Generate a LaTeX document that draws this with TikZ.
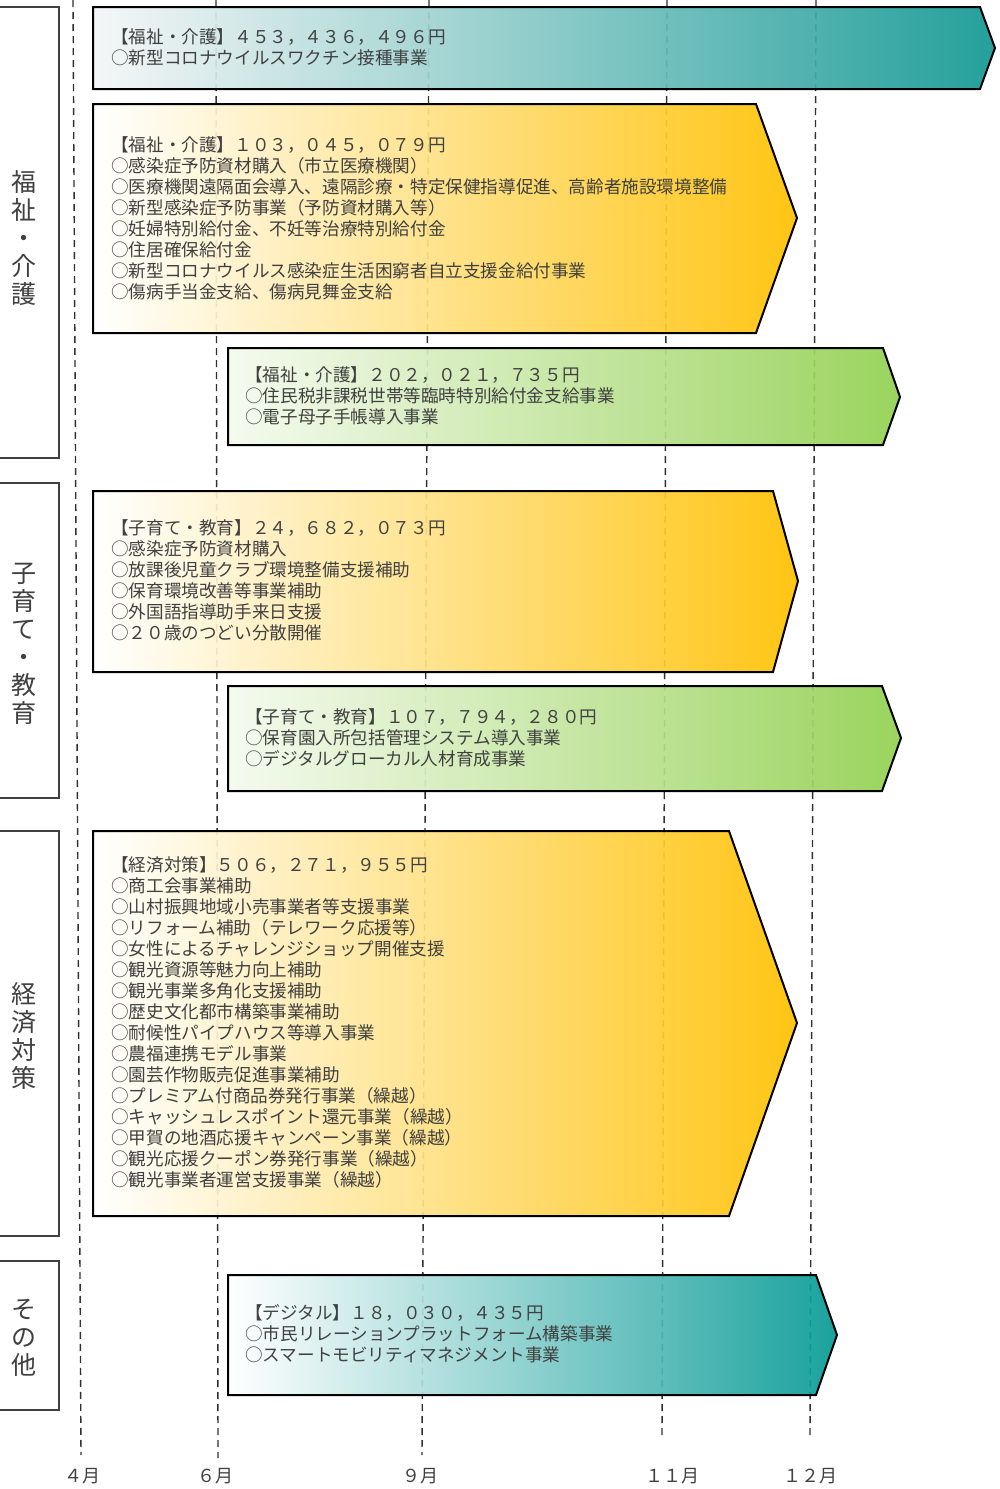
\documentclass[tikz,border=0pt]{standalone}
\usepackage{fontspec}
\setmainfont{Noto Sans CJK JP}
\begin{document}
\begin{tikzpicture}[x=1pt,y=-1pt]
\definecolor{txtc}{HTML}{404040}
\definecolor{gridc}{HTML}{303030}
\definecolor{catc}{HTML}{404040}
\definecolor{tealL}{HTML}{F4F6F6}
\definecolor{tealR}{HTML}{129893}
\definecolor{teal2R}{HTML}{079A95}
\definecolor{orangeR}{HTML}{FFC000}
\definecolor{greenL}{HTML}{F4FAEE}
\definecolor{greenR}{HTML}{92D050}
\tikzset{
 guide/.style={draw=gridc, line width=1.4pt, dash pattern=on 7pt off 5pt},
 catbox/.style={draw=catc, line width=1.6pt, fill=white},
 cattext/.style={text=txtc, font=\fontsize{25}{28}\selectfont, align=center, inner sep=0},
 arrowbox/.style={draw=black, line width=2pt, line join=miter, fill opacity=0.92},
 orangeshade/.style={left color=white, middle color=orangeR!35!white, right color=orangeR},
 body/.style={anchor=north west, inner sep=0, align=left, text=txtc, font=\fontsize{17.6}{21}\selectfont},
 month/.style={text=txtc, font=\fontsize{18}{20}\selectfont, inner sep=0},
}
\useasboundingbox (0,0) rectangle (999,1489);

% guide lines
\coordinate (g4t) at (73,0);   \coordinate (g4b) at (81,1455);
\coordinate (g6t) at (216,0);  \coordinate (g6b) at (218,1458);
\coordinate (g9t) at (429,0);  \coordinate (g9b) at (422,1455);
\coordinate (g11t) at (667,0); \coordinate (g11b) at (662,1437);
\coordinate (g12t) at (816,0); \coordinate (g12b) at (810,1435);
\draw[guide] (g4t) -- (g4b);
\draw[guide] (g6t) -- (g6b);
\draw[guide] (g9t) -- (g9b);
\draw[guide] (g11t) -- (g11b);
\draw[guide] (g12t) -- (g12b);

\node[month] (m4) at (82,1476) {４月};
\node[month] (m6) at (215,1476) {６月};
\node[month] (m9) at (420,1476) {９月};
\node[month] (m11) at (672,1476) {１１月};
\node[month] (m12) at (810,1476) {１２月};

% category boxes
\draw[catbox] (-3,7) rectangle (59,458);
\node[cattext] (c1) at (24,238) {福\\祉\\・\\介\\護};
\draw[catbox] (-3,483) rectangle (59,798);
\node[cattext] (c2) at (24,644) {子\\育\\て\\・\\教\\育};
\draw[catbox] (-3,831) rectangle (59,1236);
\node[cattext] (c3) at (24,1036) {経\\済\\対\\策};
\draw[catbox] (-3,1261) rectangle (59,1410);
\node[cattext] (c4) at (24,1338) {そ\\の\\他};

% arrows
\draw[arrowbox, left color=tealL, right color=tealR]
  (93,7) -- (980,7) -- (995,48) -- (980,89) -- (93,89) -- cycle;
\node[body] (t1) at (111,28) {【福祉・介護】４５３，４３６，４９６円\\○新型コロナウイルスワクチン接種事業};

\draw[arrowbox, orangeshade]
  (93,104) -- (756,104) -- (797,218) -- (756,333) -- (93,333) -- cycle;
\node[body] (t2) at (111,136) {【福祉・介護】１０３，０４５，０７９円\\
○感染症予防資材購入（市立医療機関）\\
○医療機関遠隔面会導入、遠隔診療・特定保健指導促進、高齢者施設環境整備\\
○新型感染症予防事業（予防資材購入等）\\
○妊婦特別給付金、不妊等治療特別給付金\\
○住居確保給付金\\
○新型コロナウイルス感染症生活困窮者自立支援金給付事業\\
○傷病手当金支給、傷病見舞金支給};

\draw[arrowbox, left color=greenL, right color=greenR]
  (228,348) -- (883,348) -- (900,397) -- (883,445) -- (228,445) -- cycle;
\node[body] (t3) at (245,366) {【福祉・介護】２０２，０２１，７３５円\\
○住民税非課税世帯等臨時特別給付金支給事業\\
○電子母子手帳導入事業};

\draw[arrowbox, orangeshade]
  (93,491) -- (773,491) -- (798,581) -- (773,672) -- (93,672) -- cycle;
\node[body] (t4) at (111,519) {【子育て・教育】２４，６８２，０７３円\\
○感染症予防資材購入\\
○放課後児童クラブ環境整備支援補助\\
○保育環境改善等事業補助\\
○外国語指導助手来日支援\\
○２０歳のつどい分散開催};

\draw[arrowbox, left color=greenL, right color=greenR]
  (228,686) -- (882,686) -- (901,738) -- (882,791) -- (228,791) -- cycle;
\node[body] (t5) at (245,708) {【子育て・教育】１０７，７９４，２８０円\\
○保育園入所包括管理システム導入事業\\
○デジタルグローカル人材育成事業};

\draw[arrowbox, orangeshade]
  (93,831) -- (729,831) -- (797,1023) -- (729,1216) -- (93,1216) -- cycle;
\node[body] (t6) at (111,856) {【経済対策】５０６，２７１，９５５円\\
○商工会事業補助\\
○山村振興地域小売事業者等支援事業\\
○リフォーム補助（テレワーク応援等）\\
○女性によるチャレンジショップ開催支援\\
○観光資源等魅力向上補助\\
○観光事業多角化支援補助\\
○歴史文化都市構築事業補助\\
○耐候性パイプハウス等導入事業\\
○農福連携モデル事業\\
○園芸作物販売促進事業補助\\
○プレミアム付商品券発行事業（繰越）\\
○キャッシュレスポイント還元事業（繰越）\\
○甲賀の地酒応援キャンペーン事業（繰越）\\
○観光応援クーポン券発行事業（繰越）\\
○観光事業者運営支援事業（繰越）};

\draw[arrowbox, left color=white, right color=teal2R]
  (228,1275) -- (816,1275) -- (837,1335) -- (816,1395) -- (228,1395) -- cycle;
\node[body] (t7) at (245,1304) {【デジタル】１８，０３０，４３５円\\
○市民リレーションプラットフォーム構築事業\\
○スマートモビリティマネジメント事業};
\end{tikzpicture}
\end{document}
